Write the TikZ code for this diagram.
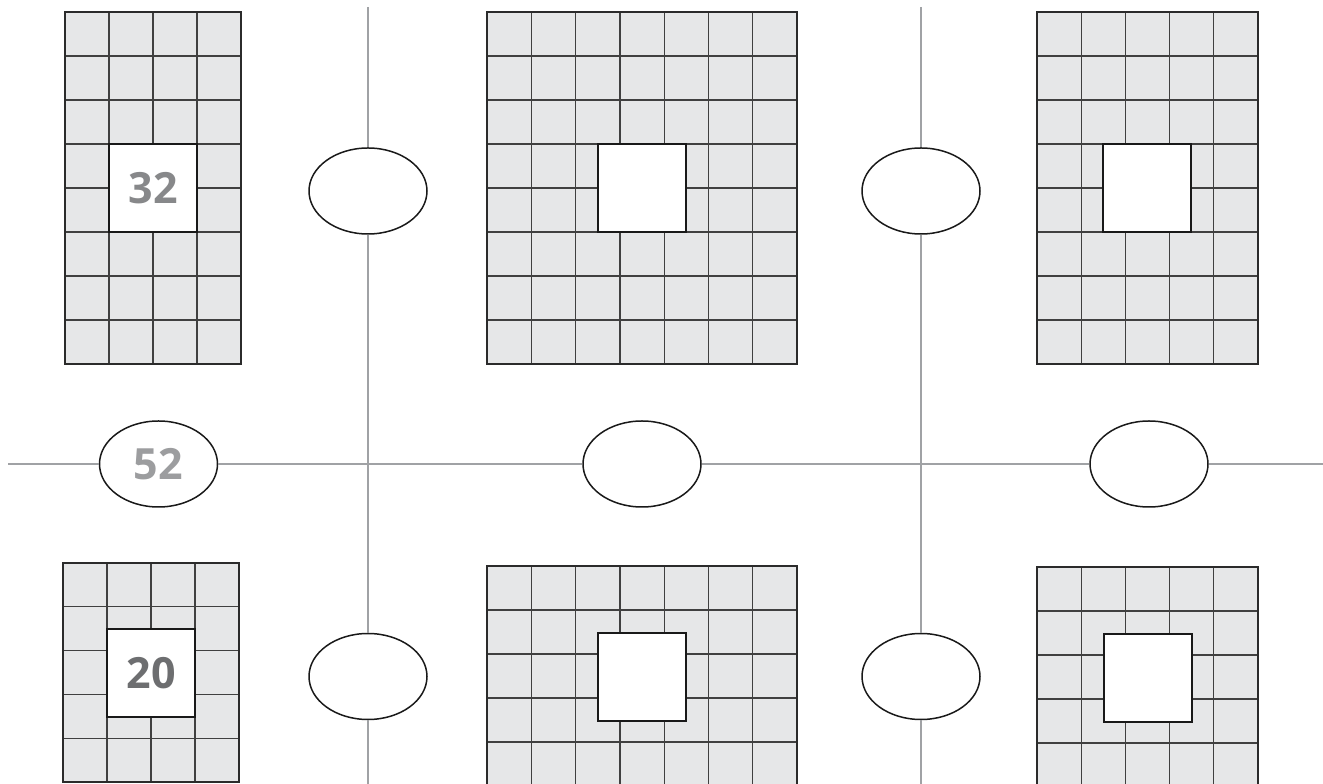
\documentclass[tikz,border=0pt]{standalone}
\usepackage{fontspec}
\setsansfont{Open Sans}
\usetikzlibrary{shapes.geometric}
\definecolor{tilegray}{HTML}{E6E7E8}
\definecolor{guidegray}{HTML}{A0A2A5}
\definecolor{framegray}{HTML}{2B2B2B}
\definecolor{numdark}{HTML}{6D6E70}
\definecolor{nummid}{HTML}{87888A}
\definecolor{numlight}{HTML}{9C9D9F}

\newcommand{\tilegrid}[6]{% left, bottom, width, height, cell width, cell height
  \begin{scope}[shift={(#1,#2)}]
    \fill[tilegray] (0,0) rectangle (#3,#4);
    \draw[tileline,xstep=#5pt,ystep=#6pt] (0,0) grid (#3,#4);
    \draw[tileframe] (0,0) rectangle (#3,#4);
  \end{scope}}

\begin{document}
\begin{tikzpicture}[
    x=1pt, y=1pt,
    tileline/.style={draw=framegray!90, line width=1.3pt},
    tileframe/.style={draw=framegray, line width=2.5pt},
    hole/.style={draw=black!90, fill=white, line width=1.8pt, minimum size=88pt, inner sep=0pt,
        font=\sffamily\bfseries\fontsize{43}{43}\selectfont},
    oval/.style={draw=black!90, ellipse, fill=white, line width=1.5pt, minimum width=118pt,
        minimum height=86pt, inner sep=0pt, font=\sffamily\bfseries\fontsize{43}{43}\selectfont},
    guide/.style={draw=guidegray, line width=2.8pt}
]
\useasboundingbox (0,0) rectangle (1323,784);

\tilegrid{65}{420}{176}{352}{44}{44}
\tilegrid{487}{420}{310}{352}{44.2857}{44}
\tilegrid{1037}{420}{221}{352}{44.2}{44}
\tilegrid{63}{2}{176}{219}{44}{43.8}
\tilegrid{487}{-2}{310}{220}{44.2857}{44}
\tilegrid{1037}{-3}{221}{220}{44.2}{44}

\node[hole, text=nummid] (holeTL) at (153,596) {32};
\node[hole] (holeTM) at (642,596) {};
\node[hole] (holeTR) at (1147,596) {};
\node[hole, text=numdark] (holeBL) at (151,111) {20};
\node[hole] (holeBM) at (642,107) {};
\node[hole] (holeBR) at (1148,106) {};

\node[oval] (ovalA) at (368,593) {};
\node[oval] (ovalB) at (921,593) {};
\node[oval, text=numlight] (ovalC) at (158.5,320) {52};
\node[oval] (ovalD) at (642,320) {};
\node[oval] (ovalE) at (1149,320) {};
\node[oval] (ovalF) at (368,107.5) {};
\node[oval] (ovalG) at (921,107.5) {};

\coordinate (leftTop) at (368,777);
\coordinate (leftBot) at (368,0);
\coordinate (rightTop) at (921,777);
\coordinate (rightBot) at (921,0);
\coordinate (rowStart) at (8,320);
\coordinate (rowEnd) at (1323,320);

\draw[guide] (leftTop) -- (ovalA) -- (ovalF) -- (leftBot);
\draw[guide] (rightTop) -- (ovalB) -- (ovalG) -- (rightBot);
\draw[guide] (rowStart) -- (ovalC) -- (ovalD) -- (ovalE) -- (rowEnd);
\end{tikzpicture}
\end{document}
